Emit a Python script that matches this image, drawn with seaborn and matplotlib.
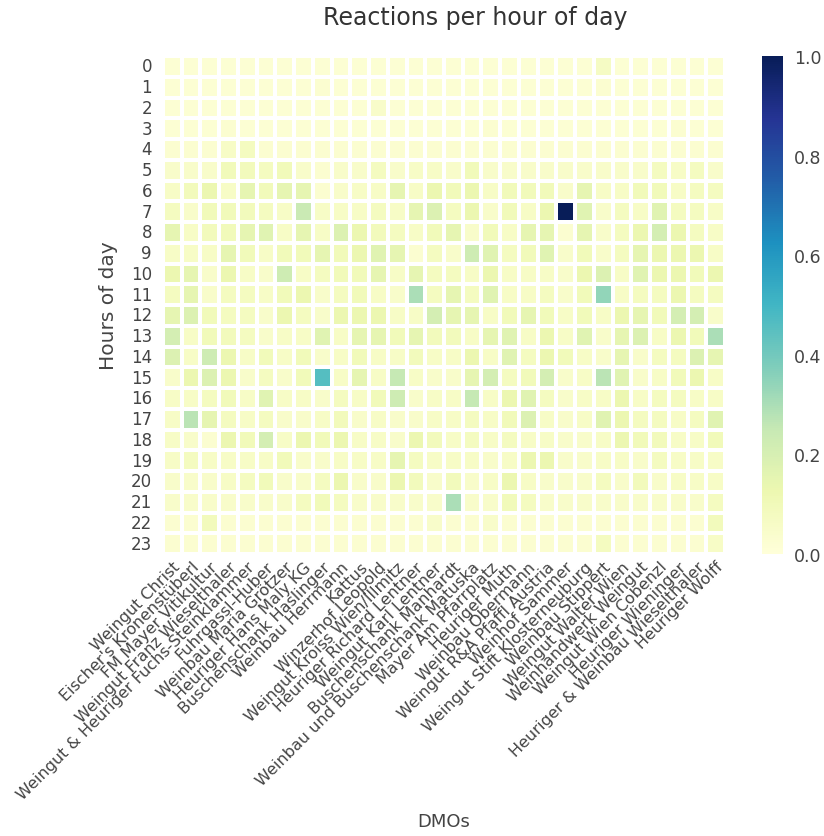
import numpy as np
import pandas as pd
import matplotlib
matplotlib.use("Agg")
import matplotlib.pyplot as plt
import seaborn as sns

dmos = [
    "Weingut Christ", "Eischer's Kronenstüberl", "FM Mayer Vitikultur",
    "Weingut Franz Wieselthaler", "Weingut & Heuriger Fuchs-Steinklammer",
    "Fuhrgassl-Huber", "Weinbau Maria Grötzer", "Heuriger Hans Maly KG",
    "Buschenschank Haslinger", "Weinbau Herrmann", "Kattus",
    "Winzerhof Leopold", "Weingut Kroiss Wien/Illmitz",
    "Heuriger Richard Lentner", "Weingut Karl Lentner",
    "Buschenschank Manhardt", "Weinbau und Buschenschank Matuska",
    "Mayer Am Pfarrplatz", "Heuriger Muth", "Weinbau Obermann",
    "Weingut R&A Pfaffl Austria", "Weinhof Sammer",
    "Weingut Stift Klosterneuburg", "Weinbau Stippert",
    "Weingut Walter Wien", "Weinhandwerk Weingut", "Weingut Wien Cobenzl",
    "Heuriger Wieninger", "Heuriger & Weinbau Wieselthaler", "Heuriger Wolff",
]
hours = list(range(24))

h00 = [.02,.02,.02,.02,.02,.02,.02,.02,.02,.02,.02,.02,.02,.02,.02,.02,.02,.02,.02,.02,.02,.02,.02,.07,.02,.02,.02,.02,.02,.02]
h01 = [.02,.02,.02,.02,.02,.02,.02,.02,.03,.02,.02,.02,.02,.02,.02,.02,.02,.02,.02,.02,.02,.02,.02,.03,.02,.02,.02,.02,.02,.02]
h02 = [.02,.02,.02,.02,.02,.02,.02,.02,.02,.02,.02,.05,.02,.02,.02,.02,.02,.02,.02,.02,.02,.02,.02,.02,.02,.02,.02,.02,.02,.02]
h03 = [.02,.02,.02,.03,.02,.02,.02,.02,.02,.02,.02,.02,.02,.02,.02,.02,.02,.03,.02,.02,.02,.02,.02,.02,.02,.02,.02,.03,.02,.02]
h04 = [.03,.03,.03,.06,.08,.03,.03,.03,.03,.03,.03,.03,.03,.03,.03,.03,.03,.03,.03,.03,.03,.03,.03,.03,.03,.03,.03,.03,.03,.03]
h05 = [.05,.05,.05,.10,.09,.08,.10,.05,.03,.05,.05,.08,.05,.06,.06,.05,.10,.05,.05,.05,.05,.05,.05,.05,.05,.05,.08,.06,.08,.05]
h06 = [.06,.09,.13,.06,.15,.10,.15,.15,.03,.05,.06,.06,.15,.06,.13,.10,.13,.06,.10,.10,.10,.05,.15,.06,.06,.10,.10,.06,.08,.08]
h07 = [.08,.05,.10,.10,.09,.08,.06,.24,.06,.06,.06,.08,.06,.15,.18,.08,.13,.05,.10,.06,.13,1.0,.17,.05,.08,.06,.17,.08,.08,.06]
h08 = [.15,.06,.09,.10,.15,.17,.06,.15,.06,.18,.13,.09,.08,.06,.10,.15,.05,.10,.06,.15,.15,.03,.15,.05,.08,.13,.21,.13,.08,.06]
h09 = [.06,.06,.06,.15,.10,.06,.10,.10,.15,.10,.13,.17,.15,.03,.08,.05,.23,.17,.08,.10,.17,.05,.10,.05,.08,.15,.13,.13,.13,.06]
h10 = [.13,.15,.05,.13,.06,.05,.23,.06,.08,.10,.10,.15,.06,.15,.08,.08,.06,.13,.06,.06,.06,.05,.13,.18,.06,.17,.13,.13,.10,.13]
h11 = [.08,.15,.05,.08,.08,.06,.10,.13,.05,.08,.10,.06,.05,.30,.08,.15,.08,.17,.06,.06,.08,.05,.10,.34,.06,.08,.08,.13,.08,.08]
h12 = [.15,.18,.10,.08,.08,.05,.13,.08,.05,.13,.13,.13,.06,.06,.21,.15,.15,.06,.10,.15,.10,.06,.10,.06,.13,.15,.10,.21,.21,.05]
h13 = [.21,.06,.10,.09,.08,.05,.06,.06,.17,.06,.15,.15,.10,.15,.09,.09,.06,.15,.17,.06,.13,.06,.17,.05,.15,.18,.06,.13,.10,.30]
h14 = [.18,.06,.23,.13,.06,.10,.06,.10,.05,.06,.10,.06,.06,.09,.06,.06,.13,.06,.17,.08,.13,.10,.06,.05,.15,.05,.08,.08,.18,.15]
h15 = [.05,.13,.18,.13,.05,.08,.05,.10,.46,.06,.15,.06,.25,.06,.05,.05,.15,.21,.08,.10,.21,.05,.06,.27,.17,.05,.06,.10,.13,.06]
h16 = [.06,.06,.08,.10,.06,.17,.06,.06,.05,.08,.06,.10,.23,.05,.06,.06,.25,.06,.13,.17,.08,.05,.06,.06,.13,.06,.08,.08,.06,.06]
h17 = [.06,.27,.15,.08,.06,.08,.05,.05,.06,.09,.05,.06,.05,.05,.06,.06,.08,.06,.10,.18,.06,.05,.06,.17,.13,.08,.08,.06,.08,.17]
h18 = [.06,.05,.03,.13,.10,.21,.06,.13,.10,.13,.06,.06,.05,.13,.09,.06,.08,.06,.08,.06,.06,.05,.05,.06,.13,.10,.09,.06,.06,.10]
h19 = [.06,.08,.06,.06,.06,.06,.10,.05,.05,.06,.06,.06,.15,.08,.06,.06,.06,.05,.06,.13,.13,.05,.05,.06,.06,.05,.08,.06,.06,.06]
h20 = [.05,.05,.05,.06,.08,.10,.05,.05,.08,.13,.05,.05,.13,.09,.05,.09,.05,.06,.13,.06,.05,.05,.05,.08,.05,.09,.05,.06,.06,.06]
h21 = [.05,.05,.05,.05,.05,.05,.05,.08,.10,.08,.05,.05,.05,.05,.05,.30,.05,.05,.10,.08,.05,.05,.05,.05,.05,.05,.05,.05,.05,.08]
h22 = [.03,.03,.09,.03,.03,.03,.03,.03,.03,.03,.03,.03,.03,.03,.05,.03,.03,.05,.03,.03,.03,.03,.03,.03,.03,.03,.03,.03,.03,.09]
h23 = [.03,.03,.03,.03,.03,.03,.03,.03,.03,.03,.03,.03,.03,.03,.03,.03,.03,.03,.03,.03,.03,.03,.03,.08,.03,.03,.03,.03,.03,.06]

rows = [h00, h01, h02, h03, h04, h05, h06, h07, h08, h09, h10, h11,
        h12, h13, h14, h15, h16, h17, h18, h19, h20, h21, h22, h23]
df = pd.DataFrame(rows, index=hours, columns=dmos)

sns.set_style("white")
plt.rcParams['font.family'] = ['DejaVu Sans']
txt = '#444444'

fig = plt.figure(figsize=(8.24, 8.37), dpi=100)
ax = fig.add_axes([163/824, 1-555/837, (725-163)/824, (555-57)/837])
cax = fig.add_axes([762/824, 1-555/837, 21/824, (555-57)/837])

sns.heatmap(df, ax=ax, cbar_ax=cax, cmap="YlGnBu", vmin=0, vmax=1,
            linewidths=1.5, linecolor="white",
            xticklabels=dmos, yticklabels=hours)

ax.tick_params(axis='both', length=0, colors=txt)
ax.tick_params(axis='y', pad=8)
ax.set_yticklabels(hours, rotation=0, fontsize=12, color=txt)
ax.set_xticklabels(dmos, rotation=45, ha='right', rotation_mode='anchor',
                   fontsize=11.5, color=txt)
ax.set_xlabel("DMOs", fontsize=13, color=txt)
ax.set_ylabel("Hours of day", fontsize=14.5, color=txt)
ax.xaxis.set_label_coords(0.5, -(813-555)/498)
ax.yaxis.set_label_coords(-(163-118)/562, 0.5)
cax.tick_params(length=0, labelsize=12.5, colors=txt, pad=8)
cax.set_yticks([0, 0.2, 0.4, 0.6, 0.8, 1.0])
cax.set_yticklabels(["0.0", "0.2", "0.4", "0.6", "0.8", "1.0"])
fig.text(475/824, 1-18/837, "Reactions per hour of day", ha='center', va='center',
         fontsize=17, color='#333333')

fig.savefig("out.png", dpi=100)
